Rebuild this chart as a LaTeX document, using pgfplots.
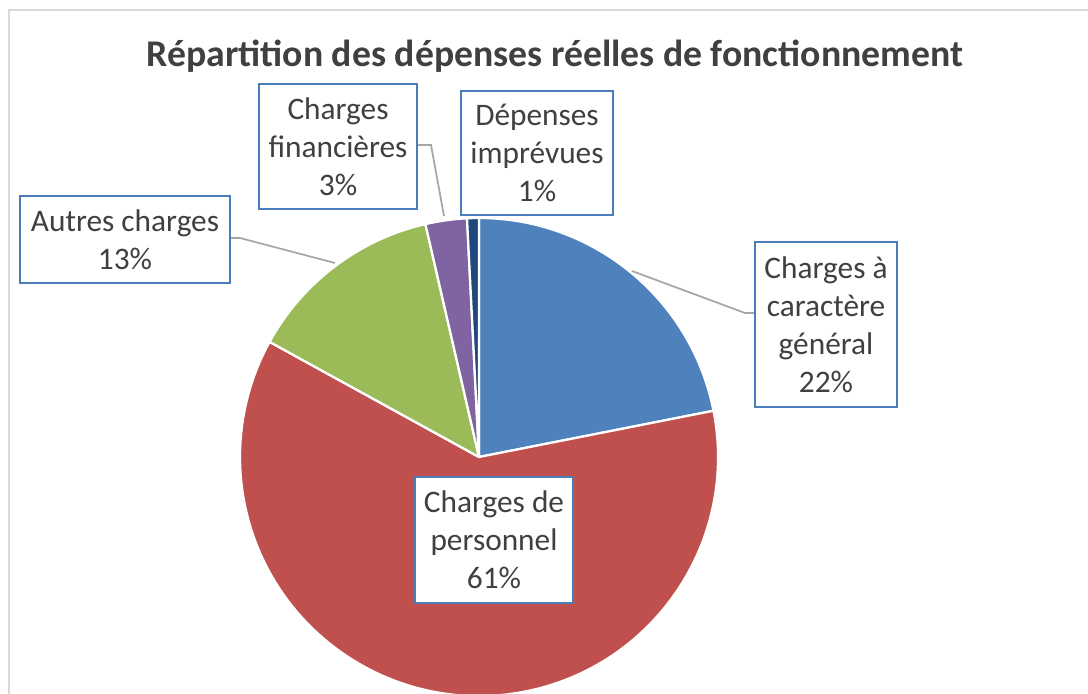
\documentclass[border=0pt]{standalone}
\usepackage{pgfplots}
\pgfplotsset{compat=1.18}
\usepackage{pgfplotstable}
\usepackage{fontspec}
\setmainfont{Carlito}

\definecolor{sgen}{HTML}{4F81BD}
\definecolor{spers}{HTML}{C0504D}
\definecolor{sautres}{HTML}{9BBB59}
\definecolor{sfin}{HTML}{8064A2}
\definecolor{simpr}{HTML}{1F497D}
\definecolor{txt}{HTML}{404040}
\definecolor{boxline}{HTML}{4A7EBB}
\definecolor{leader}{HTML}{A6A6A6}
\definecolor{frame}{HTML}{D9D9D9}

% shares of the pie (percent), clockwise from 12 o'clock
\pgfplotstableread{
name value
gen 21.9
pers 61.1
autres 13.4
fin 2.8
impr 0.8
}\piedata

% radius 239 px at 0.75pt per px
\newcommand\slice[3]{%
  \fill[#3, draw=white, line width=1.7pt, line join=round]
    (axis cs:479,457) -- ++(#1:179.25pt)
    arc[start angle=#1, end angle=#2, radius=179.25pt] -- cycle;}

\tikzset{lbl/.style={draw=boxline, line width=1.4pt, fill=white, text=txt,
  align=center, inner sep=0pt, font=\fontsize{23.5}{28.5}\selectfont}}

\begin{document}
\begin{tikzpicture}
\def\angA{90}
\pgfplotstablegetelem{0}{value}\of\piedata \pgfmathsetmacro\angB{\angA-3.6*\pgfplotsretval}
\pgfplotstablegetelem{1}{value}\of\piedata \pgfmathsetmacro\angC{\angB-3.6*\pgfplotsretval}
\pgfplotstablegetelem{2}{value}\of\piedata \pgfmathsetmacro\angD{\angC-3.6*\pgfplotsretval}
\pgfplotstablegetelem{3}{value}\of\piedata \pgfmathsetmacro\angE{\angD-3.6*\pgfplotsretval}
\pgfplotstablegetelem{4}{value}\of\piedata \pgfmathsetmacro\angF{\angE-3.6*\pgfplotsretval}
\begin{axis}[
  scale only axis,
  width=816pt, height=519.75pt,
  xmin=0, xmax=1088, ymin=0, ymax=693,
  y dir=reverse,
  hide axis,
  clip=false,
]
% chart frame
\draw[frame, line width=2pt] (axis cs:9,720) -- (axis cs:9,10) -- (axis cs:1100,10);

\node[text=txt, font=\bfseries\fontsize{28.3}{32}\selectfont]
  at (axis cs:555,56) {Répartition des dépenses réelles de fonctionnement};

\slice{\angA}{\angB}{sgen}
\slice{\angB}{\angC}{spers}
\slice{\angC}{\angD}{sautres}
\slice{\angD}{\angE}{sfin}
\slice{\angE}{\angF}{simpr}

% leader lines
\draw[leader, line width=1.3pt] (axis cs:632,271) -- (axis cs:745,313) -- (axis cs:755,313);
\draw[leader, line width=1.3pt] (axis cs:230,238) -- (axis cs:240,238) -- (axis cs:335,263);
\draw[leader, line width=1.3pt] (axis cs:417,145) -- (axis cs:431,145) -- (axis cs:444,216);

% data labels
\node[lbl, minimum width=106.5pt, minimum height=123.75pt] at (axis cs:826,324.5)
  {Charges à\\caractère\\général\\22\%};
\node[lbl, minimum width=118.5pt, minimum height=94.5pt] at (axis cs:494,540)
  {Charges de\\personnel\\61\%};
\node[lbl, minimum width=157.5pt, minimum height=65.25pt] at (axis cs:125,239.5)
  {Autres charges\\13\%};
\node[lbl, minimum width=118.5pt, minimum height=93.75pt] at (axis cs:338,146.5)
  {Charges\\financières\\3\%};
\node[lbl, minimum width=114pt, minimum height=93pt] at (axis cs:537,153)
  {Dépenses\\imprévues\\1\%};
\end{axis}
\pgfresetboundingbox
\useasboundingbox (current axis.south west) rectangle (current axis.north east);
\end{tikzpicture}
\end{document}
